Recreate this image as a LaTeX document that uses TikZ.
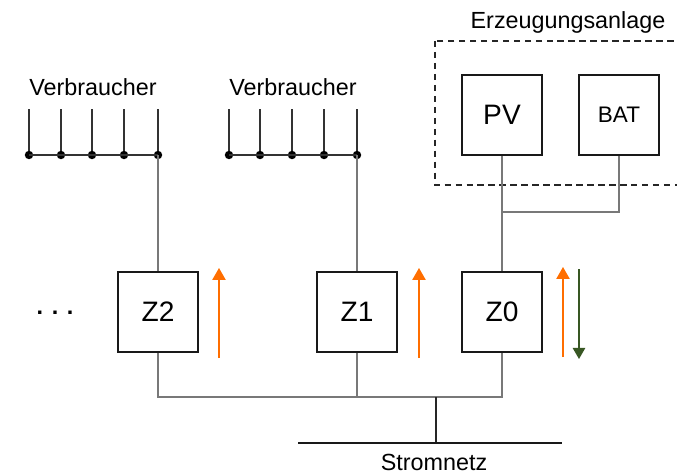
\documentclass[tikz,border=0pt]{standalone}
\usepackage{fontspec}
\setmainfont{Liberation Sans}
\usetikzlibrary{arrows.meta, positioning, calc}
\definecolor{floworange}{RGB}{255, 110, 0}
\definecolor{flowgreen}{RGB}{56, 87, 35}
\definecolor{wiregray}{RGB}{120, 120, 120}

\begin{document}
\begin{tikzpicture}[
  x=0.025cm, y=-0.025cm,
  unitbox/.style={draw=black!90, line width=1.4pt, minimum size=2cm, inner sep=0pt, font=\fontsize{20}{24}\selectfont},
  wire/.style={draw=wiregray, line width=0.8pt},
  feeder/.style={draw=black!80, line width=1pt},
  lbl/.style={font=\fontsize{16.6}{19}\selectfont, inner sep=0pt, anchor=base},
  flowup/.style={draw=floworange, line width=0.9pt, -{Triangle[width=9.5pt,length=8.5pt]}},
  flowdown/.style={draw=flowgreen, line width=0.9pt, -{Triangle[width=9pt,length=8pt]}}
]
  \useasboundingbox (0,0) rectangle (677,475);

  % Zaehler und Erzeugung
  \node[unitbox] (Z2) at (158, 312) {Z2};
  \node[unitbox] (Z1) at (357, 312) {Z1};
  \node[unitbox] (Z0) at (502, 312) {Z0};
  \node[unitbox] (PV) at (502, 115) {PV};
  \node[unitbox, font=\fontsize{16}{19}\selectfont] (BAT) at (619, 115) {BAT};

  \node[lbl] (more) at (55, 314) {\textbf{. . .}};

  % Verbraucher-Gruppen
  \node[lbl] (vlabA) at (93, 95) {Verbraucher};
  \node[lbl] (vlabB) at (293, 95) {Verbraucher};
  \foreach \i/\x in {1/29, 2/61, 3/92, 4/124, 5/158} {
    \coordinate (va\i) at (\x, 155);
    \draw[feeder] (va\i) -- ++(0, -46);
    \fill[black] (va\i) circle[radius=3pt];
  }
  \foreach \i/\x in {1/229, 2/260, 3/292, 4/324, 5/357} {
    \coordinate (vb\i) at (\x, 155);
    \draw[feeder] (vb\i) -- ++(0, -46);
    \fill[black] (vb\i) circle[radius=3pt];
  }
  \draw[feeder] (va1) -- (va5);
  \draw[feeder] (vb1) -- (vb5);
  \draw[wire] (va5) -- (Z2);
  \draw[wire] (vb5) -- (Z1);

  % Erzeugungsanlage
  \draw[black!85, line width=1.05pt, dash pattern=on 4.6pt off 3.2pt] (435, 41) rectangle (690, 185);
  \node[lbl] (gen) at (568, 28) {Erzeugungsanlage};
  \coordinate (gj) at (502, 212);
  \draw[wire] (PV) -- (Z0);
  \draw[wire] (BAT) |- (gj);

  % Netzanschluss
  \coordinate (jn) at (436, 397);
  \coordinate (gl) at (298, 443);
  \coordinate (gr) at (562, 443);
  \draw[wire] (Z2) -- (Z2 |- jn) -- (Z0 |- jn) -- (Z0);
  \draw[wire] (Z1) -- (Z1 |- jn);
  \draw[black!85, line width=1pt] (jn) -- (jn |- gl);
  \draw[black!90, line width=2.1pt] (gl) -- (gr);
  \node[lbl] (grid) at (434, 470) {Stromnetz};

  % Energiefluss
  \draw[flowup] ($(Z2.south east)+(20, 5)$) -- ($(Z2.north east)+(20, -3)$);
  \draw[flowup] ($(Z1.south east)+(21, 5)$) -- ($(Z1.north east)+(21, -3)$);
  \draw[flowup] ($(Z0.south east)+(20, 4)$) -- ($(Z0.north east)+(20, -4)$);
  \draw[flowdown] ($(Z0.north east)+(36, -2)$) -- ($(Z0.south east)+(36, 6)$);
\end{tikzpicture}
\end{document}
